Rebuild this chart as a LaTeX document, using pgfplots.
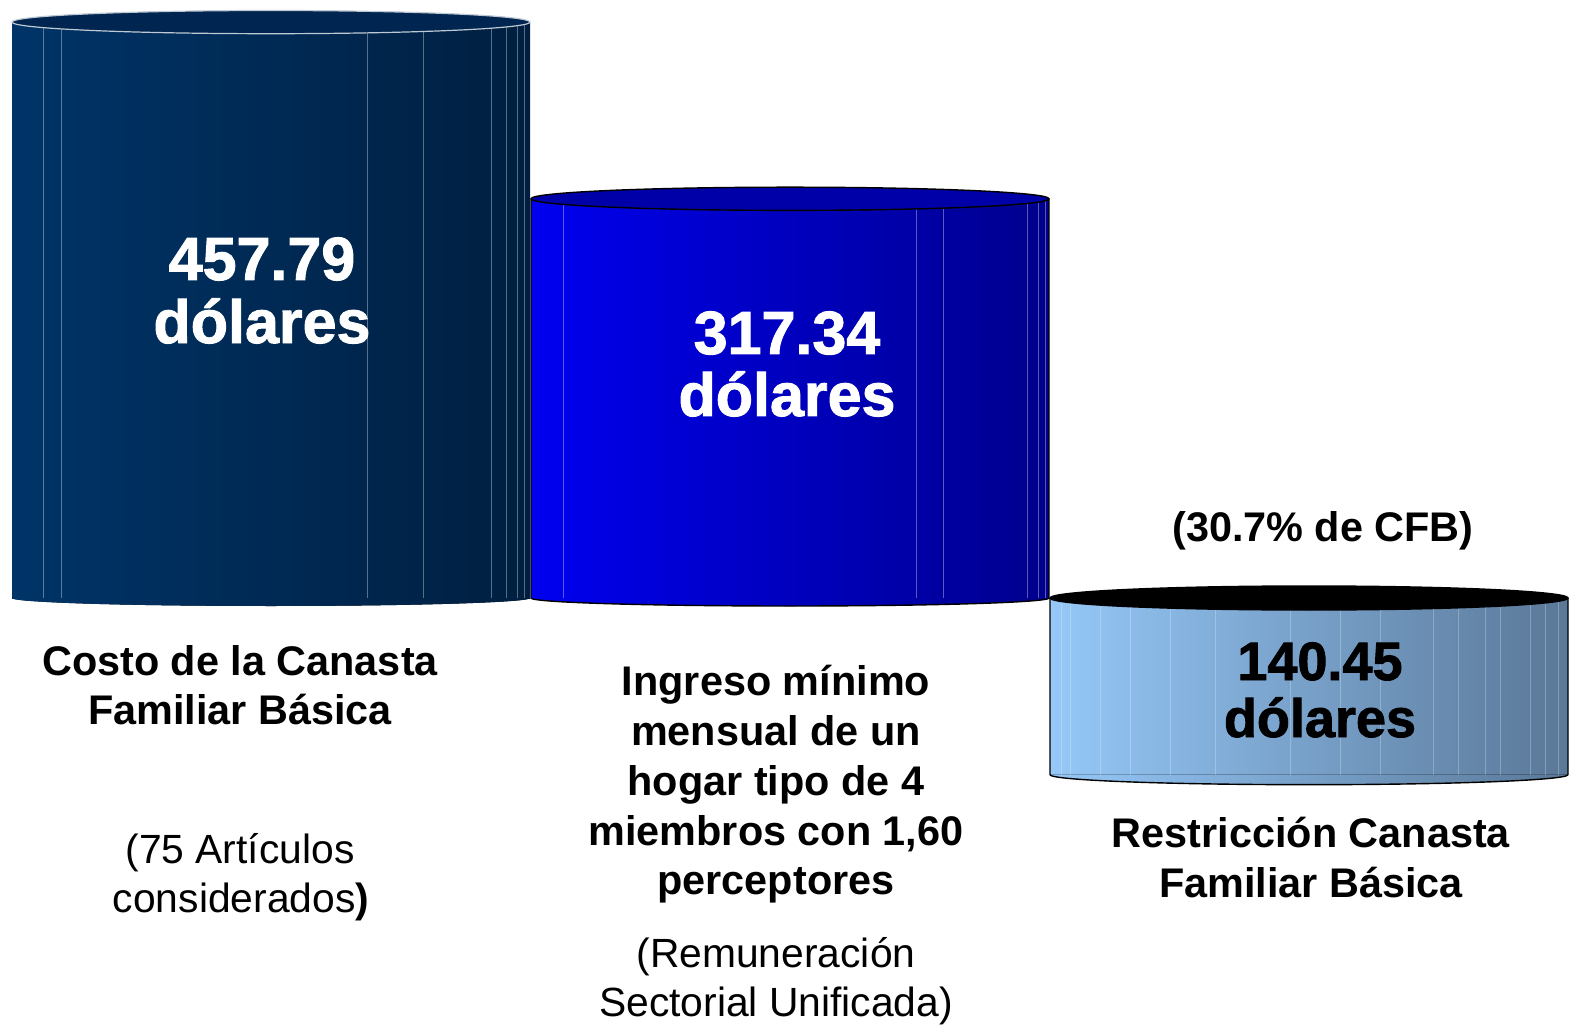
\documentclass[border=0pt]{standalone}
\usepackage{pgfplots}
\pgfplotsset{compat=1.18}
\usepackage{fontspec}
\setmainfont{Liberation Sans}
\newfontfamily\heavy[FakeBold=1.6]{Liberation Sans Bold}
\definecolor{navyL}{HTML}{003468}
\definecolor{navyM}{HTML}{002E5C}
\definecolor{navyR}{HTML}{001F40}
\definecolor{navyT}{HTML}{002550}
\definecolor{blueL}{HTML}{0000F0}
\definecolor{blueM}{HTML}{0000D4}
\definecolor{blueR}{HTML}{00008C}
\definecolor{blueT}{HTML}{0000A8}
\definecolor{skyL}{HTML}{95C8F8}
\definecolor{skyM}{HTML}{80AAD5}
\definecolor{skyR}{HTML}{5A7898}
\newcommand\valfont{\fontsize{30.5}{36}\selectfont\heavy}
\newcommand\valfontS{\fontsize{27}{32}\selectfont\heavy}
\newcommand\labfont{\fontsize{20.7}{25}\selectfont\bfseries}
\newcommand\regfont{\fontsize{20.4}{25}\selectfont}
\newcommand\T[3]{\node[anchor=base,inner sep=0pt,#3] at (axis cs:#1,{(598-#2)/1.258})}
\begin{document}
\begin{tikzpicture}
\begin{axis}[
  at={(0,0)}, anchor=south west,
  width=784.5pt, height=512.5pt, scale only axis,
  xmin=0, xmax=1569, ymin=-339.43, ymax=475.36,
  hide axis, clip=false,
  ybar, bar width=518, bar shift=0pt,
]
% bar 1
\addplot[draw=none, left color=navyL, middle color=navyM, right color=navyR] coordinates {(271,457.79)};
\fill[left color=navyL, middle color=navyM, right color=navyR] (axis cs:12,0) arc[start angle=180,end angle=360,x radius=129.5pt,y radius=4pt] -- cycle;
\pgfplotsinvokeforeach{43,61,367,423,491,506,517,524}{
  \draw[white, opacity=0.35, line width=0.4pt] (axis cs:#1,0) -- (axis cs:#1,457.79);}
\filldraw[fill=navyT, draw=white!75!navyT, line width=0.6pt] (axis cs:271,457.79) ellipse[x radius=129.5pt, y radius=5.8pt];
% bar 2
\addplot[draw=none, left color=blueL, middle color=blueM, right color=blueR] coordinates {(790,317.34)};
\fill[left color=blueL, middle color=blueM, right color=blueR] (axis cs:531,0) arc[start angle=180,end angle=360,x radius=129.5pt,y radius=4pt] -- cycle;
\pgfplotsinvokeforeach{563,916,943,1027,1038,1045}{
  \draw[white, opacity=0.35, line width=0.4pt] (axis cs:#1,0) -- (axis cs:#1,317.34);}
\draw[black, line width=0.7pt] (axis cs:531,317.34) -- (axis cs:531,0) arc[start angle=180,end angle=360,x radius=129.5pt,y radius=4pt] -- (axis cs:1049,317.34);
\filldraw[fill=blueT, draw=black, line width=0.7pt] (axis cs:790,317.34) ellipse[x radius=129.5pt, y radius=5.8pt];
% bar 3
\addplot[draw=none, left color=skyL, middle color=skyM, right color=skyR] coordinates {(1309,-140.45)};
\fill[left color=skyL, middle color=skyM, right color=skyR] (axis cs:1050,-140.45) arc[start angle=180,end angle=360,x radius=129.5pt,y radius=5pt] -- cycle;
\pgfplotsinvokeforeach{1061,1070,1100,1130,1170,1215,1290,1340,1380,1433,1458,1485,1500,1530,1545,1558}{
  \draw[white, opacity=0.25, line width=0.4pt] (axis cs:#1,-140.45) -- (axis cs:#1,0);}
\draw[black, line width=0.7pt] (axis cs:1050,0) -- (axis cs:1050,-140.45) arc[start angle=180,end angle=360,x radius=129.5pt,y radius=5pt] -- (axis cs:1568,0);
\filldraw[fill=black, draw=black, line width=0.7pt] (axis cs:1309,0) ellipse[x radius=129.5pt, y radius=6pt];
% value labels
\T{262}{280}{white,font=\valfont}{457.79};
\T{262}{343}{white,font=\valfont}{dólares};
\T{787}{354}{white,font=\valfont}{317.34};
\T{787}{416}{white,font=\valfont}{dólares};
\T{1320}{680}{black,font=\valfontS}{140.45};
\T{1320}{737}{black,font=\valfontS}{dólares};
\T{1323}{541}{black,font=\labfont}{(30.7\% de CFB)};
% category labels
\T{240}{675}{font=\labfont}{Costo de la Canasta};
\T{240}{724}{font=\labfont}{Familiar Básica};
\T{240}{863}{font=\regfont}{(75 Artículos};
\T{241}{912}{font=\regfont}{considerados\textbf{)}};
\T{776}{695}{font=\labfont}{Ingreso mínimo};
\T{776}{745}{font=\labfont}{mensual de un};
\T{776}{795}{font=\labfont}{hogar tipo de 4};
\T{776}{845}{font=\labfont}{miembros con 1,60};
\T{776}{894}{font=\labfont}{perceptores};
\T{776}{967}{font=\regfont}{(Remuneración};
\T{776}{1016}{font=\regfont}{Sectorial Unificada)};
\T{1311}{847}{font=\labfont}{Restricción Canasta};
\T{1311}{897}{font=\labfont}{Familiar Básica};
\end{axis}
\pgfresetboundingbox
\useasboundingbox (0,0) rectangle (784.5pt,512.5pt);
\end{tikzpicture}
\end{document}
